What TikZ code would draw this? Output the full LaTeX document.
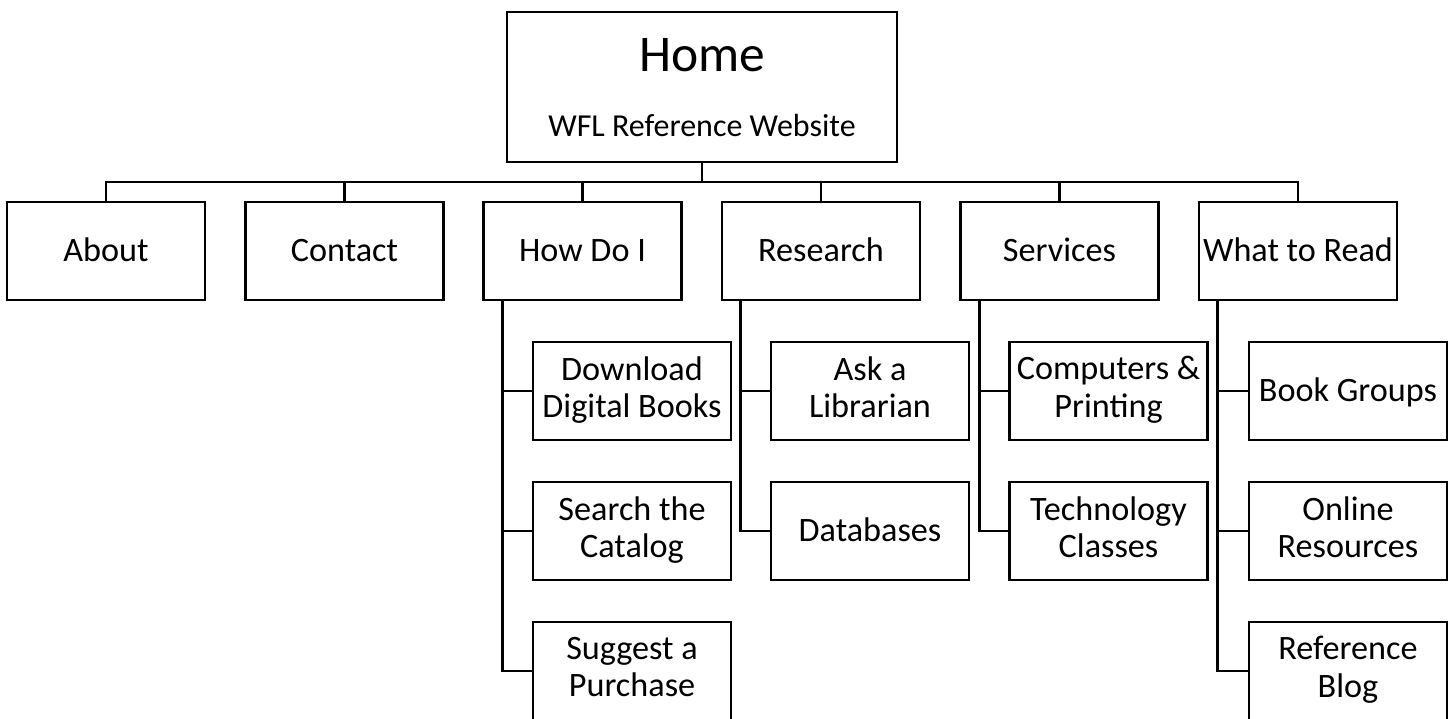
\documentclass[tikz,border=0pt]{standalone}
\usepackage{fontspec}
\setmainfont{Carlito}
\newcommand\lnstrut{\rule[-7.9pt]{0pt}{36.9pt}}
\begin{document}
\begin{tikzpicture}[x=1pt,y=-1pt,
  every path/.style={line width=2.7pt},
  box/.style={draw=black,line width=2.7pt,rectangle,minimum width=198pt,minimum height=98pt,inner sep=0pt,align=center,font=\fontsize{34.2}{37.7}\selectfont,execute at begin node=\lnstrut,execute at end node=\lnstrut},
  txt/.style={inner sep=0pt,anchor=base}]
\useasboundingbox (0,0) rectangle (1452,719);
% home
\node[draw=black,line width=2.7pt,minimum width=390pt,minimum height=150pt,inner sep=0pt] (home) at (702,87) {};
\node[txt,font=\fontsize{51.5}{56}\selectfont] (homet) at (702,72) {Home};
\node[txt,font=\fontsize{32}{36}\selectfont] (homes) at (702,137) {WFL Reference Website};
% top level
\node[box] (about) at (106,251) {About};
\node[box] (contact) at (344.5,251) {Contact};
\node[box] (howdoi) at (582.5,251) {How Do I};
\node[box] (research) at (821,251) {Research};
\node[box] (services) at (1059.5,251) {Services};
\node[box] (what) at (1298,251) {What to Read};
% children
\node[box] (dl) at (632,391) {Download\\Digital Books};
\node[box] (sc) at (632,531) {Search the\\Catalog};
\node[box] (sp) at (632,671) {Suggest a\\Purchase};
\node[box] (ask) at (870,391) {Ask a\\Librarian};
\node[box] (db) at (870,531) {Databases};
\node[box] (cp) at (1108.5,391) {Computers \&\\Printing};
\node[box] (tc) at (1108.5,531) {Technology\\Classes};
\node[box] (bg) at (1348,391) {Book Groups};
\node[box] (or) at (1348,531) {Online\\Resources};
\node[box] (rb) at (1348,671) {Reference\\Blog};
% bus
\coordinate (busy) at (0,182);
\draw (about.north) -- (about.north |- busy) -- (what.north |- busy) -- (what.north);
\draw (home.south) -- (home.south |- busy);
\draw (contact.north) -- (contact.north |- busy);
\draw (howdoi.north) -- (howdoi.north |- busy);
\draw (research.north) -- (research.north |- busy);
\draw (services.north) -- (services.north |- busy);
% child connectors
\coordinate (h0) at ([xshift=20pt]howdoi.south west);
\coordinate (r0) at ([xshift=20pt]research.south west);
\coordinate (s0) at ([xshift=20pt]services.south west);
\coordinate (w0) at ([xshift=20pt]what.south west);
\draw (h0) |- (sp.west);
\draw (h0 |- dl.west) -- (dl.west);
\draw (h0 |- sc.west) -- (sc.west);
\draw (r0) |- (db.west);
\draw (r0 |- ask.west) -- (ask.west);
\draw (s0) |- (tc.west);
\draw (s0 |- cp.west) -- (cp.west);
\draw (w0) |- (rb.west);
\draw (w0 |- bg.west) -- (bg.west);
\draw (w0 |- or.west) -- (or.west);
\end{tikzpicture}
\end{document}
